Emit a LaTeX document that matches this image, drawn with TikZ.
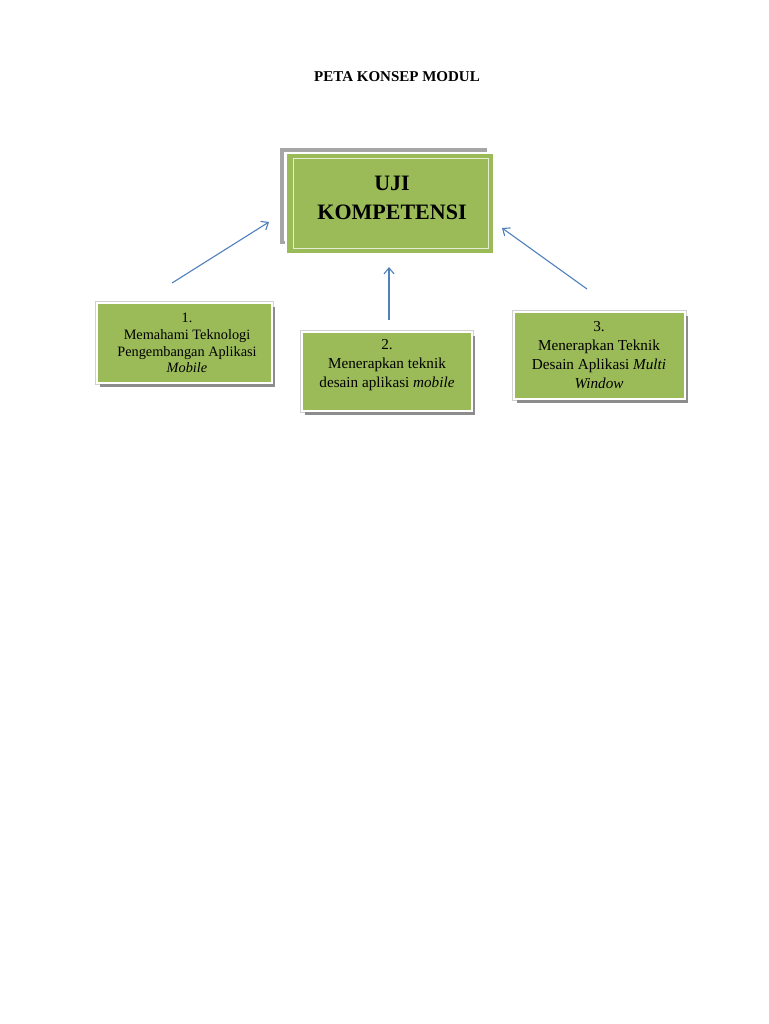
\documentclass[tikz,border=0pt]{standalone}
\usepackage{fontspec}
\setmainfont{Liberation Serif}
\usetikzlibrary{arrows.meta,shadows}
\definecolor{kgreen}{HTML}{9BBB59}
\definecolor{kgray}{HTML}{A6A6A6}
\definecolor{kblue}{HTML}{4F81BD}
\definecolor{klight}{HTML}{E4EDD2}
\begin{document}
\begin{tikzpicture}[x=1pt,y=-1pt,
  smallbox/.style={fill=kgreen, draw=white, line width=1.6pt, inner sep=0pt,
    preaction={draw=black!18, line width=3.6pt},
    drop shadow={shadow xshift=3pt, shadow yshift=-3.5pt, fill=black!45, opacity=1}},
  boxtext/.style={align=center, font=\fontsize{14.3}{16.7}\selectfont, inner sep=0pt},
  conn/.style={draw=kblue, line width=1.1pt, -{Straight Barb[length=6pt,width=10pt]}}]
\useasboundingbox (0,0) rectangle (768,1024);
\fill[white] (0,0) rectangle (768,1024);

% title
\node[font=\fontsize{15}{18}\selectfont\bfseries] (title) at (397,77) {PETA KONSEP MODUL};

% main box
\fill[kgray] (280,148) rectangle (487,244);
\draw[white, line width=0.8pt] (284,152) rectangle (483,240);
\draw[fill=kgreen, draw=white, line width=1.6pt] (286,153) rectangle (494,254);
\draw[klight, line width=1pt] (293,159) rectangle (488,248);
\node[align=center, font=\fontsize{22}{29}\selectfont\bfseries, inner sep=0pt] (main) at (392,198) {UJI\\KOMPETENSI};

% small boxes
\node[smallbox, minimum width=175pt, minimum height=80pt] (b1) at (184.5,343) {};
\node[boxtext] (t1) at (187,343) {1.\\Memahami Teknologi\\Pengembangan Aplikasi\\\textit{Mobile}};

\node[smallbox, minimum width=170pt, minimum height=79pt] (b2) at (387,371.5) {};
\node[boxtext, font=\fontsize{15.2}{19}\selectfont] (t2) at (387,365.5) {2.\\Menerapkan teknik\\desain aplikasi \textit{mobile}};

\node[smallbox, minimum width=171pt, minimum height=87pt] (b3) at (599.5,355.5) {};
\node[boxtext, font=\fontsize{15.2}{19}\selectfont] (t3) at (599,355) {3.\\Menerapkan Teknik\\Desain Aplikasi \textit{Multi}\\\textit{Window}};

% arrow end points
\coordinate (a1s) at (172,283);
\coordinate (a1e) at (269,222);
\coordinate (a2s) at (389,320);
\coordinate (a2e) at (389,267);
\coordinate (a3s) at (587,289);
\coordinate (a3e) at (502,228);
\draw[conn] (a1s) -- (a1e);
\draw[conn] (a2s) -- (a2e);
\draw[conn] (a3s) -- (a3e);
\end{tikzpicture}
\end{document}
